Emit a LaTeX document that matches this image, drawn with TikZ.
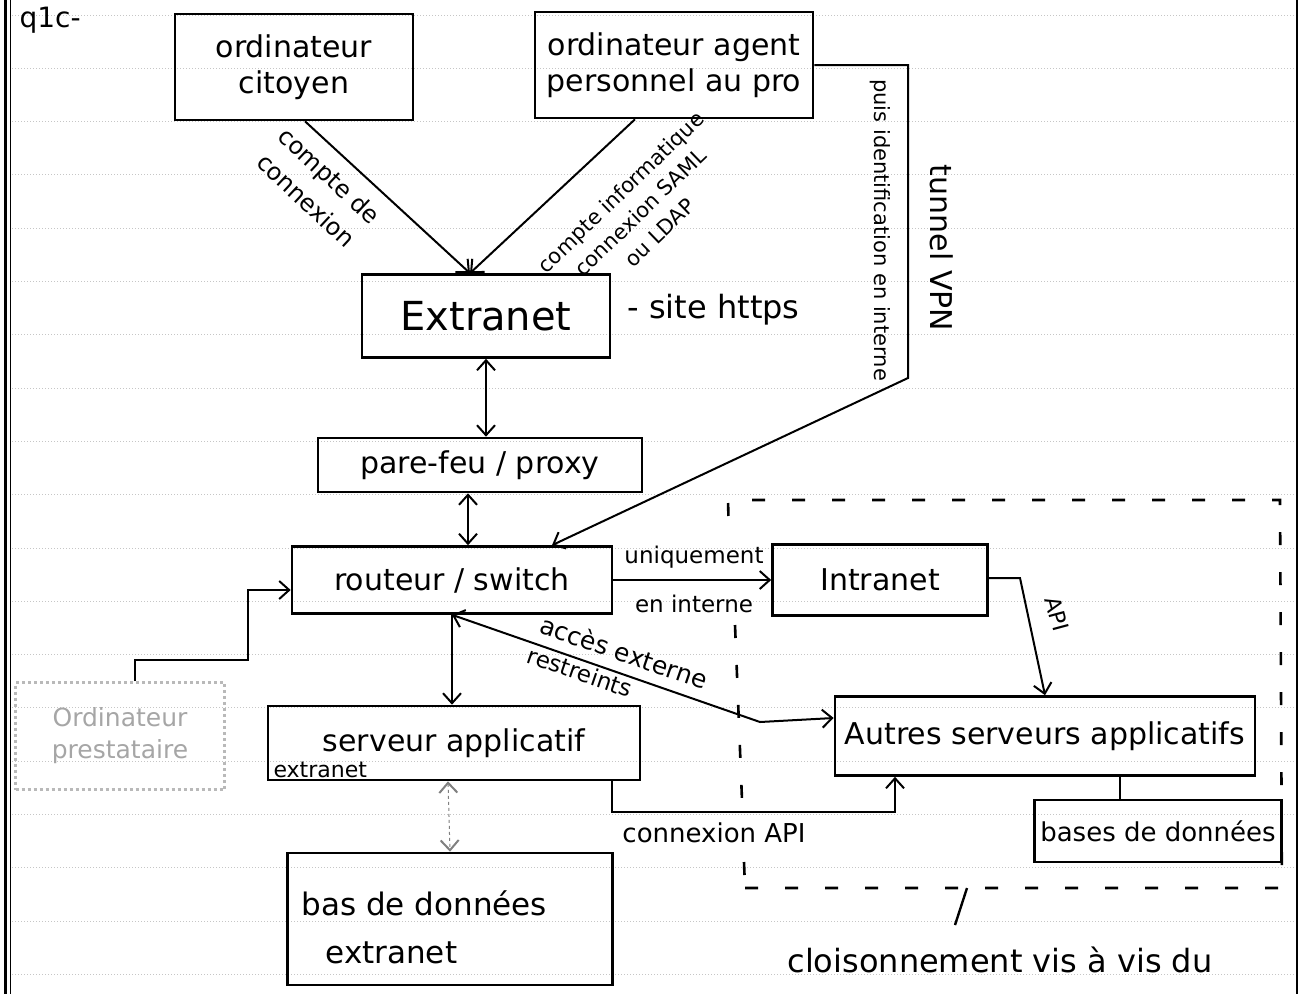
\documentclass[tikz,border=0pt]{standalone}
\usepackage{fontspec}
\setmainfont{DejaVu Sans}
\usetikzlibrary{arrows.meta}
\newcommand\szbig{\fontsize{40}{44}\selectfont}
\newcommand\szbox{\fontsize{30}{36}\selectfont}
\newcommand\szlab{\fontsize{23}{28}\selectfont}
\newcommand\szsmall{\fontsize{20}{24}\selectfont}
\begin{document}
\begin{tikzpicture}[x=1pt,y=-1pt,
  box/.style={draw, line width=2.6pt, inner sep=0pt, align=center, font=\szbox},
  conn/.style={line width=2pt},
  arr/.style={conn, -{Straight Barb[length=10pt,width=18pt,line width=2pt]}},
  darr/.style={conn, {Straight Barb[length=10pt,width=18pt,line width=2pt]}-{Straight Barb[length=10pt,width=18pt,line width=2pt]}},
  lab/.style={font=\szlab, inner sep=1pt, align=center},
  ruled/.style={gray!45, dotted, line width=1pt},
  zone/.style={line width=2.6pt, dash pattern=on 13pt off 27pt}]
\useasboundingbox (0,0) rectangle (1303,994);
\fill[white] (0,0) rectangle (1303,994);
% notebook ruling and margins
\foreach \i in {0,...,18} \draw[ruled] (12,15+53.3*\i) -- (1294,15+53.3*\i);
\draw[line width=3pt] (5,0) -- (5,994);
\draw[line width=1pt] (10,0) -- (10,994);
\draw[line width=2pt] (1297,0) -- (1297,994);
\node[font=\fontsize{28}{30}\selectfont, anchor=west] (q) at (16,20) {q1c-};
% boxes
\node[box, minimum width=238pt, minimum height=106pt] (cit) at (294,67) {ordinateur\\citoyen};
\node[box, minimum width=278pt, minimum height=106pt] (agt) at (674,65) {ordinateur agent\\personnel au pro};
\node[box, font=\szbig, minimum width=248pt, minimum height=83pt] (ext) at (486,316) {Extranet};
\node[font=\fontsize{32}{36}\selectfont, anchor=west] (https) at (624,310) {- site https};
\node[box, minimum width=324pt, minimum height=54pt] (pf) at (480,465) {pare-feu / proxy};
\node[box, minimum width=320pt, minimum height=67pt] (rt) at (452,580) {routeur / switch};
\node[box, minimum width=215pt, minimum height=71pt] (intra) at (880,580) {Intranet};
\node[box, minimum width=420pt, minimum height=79pt] (autres) at (1045,736) {Autres serveurs applicatifs};
\node[box, minimum width=372pt, minimum height=74pt] (serv) at (454,743) {serveur applicatif};
\node[font=\fontsize{22}{26}\selectfont, anchor=west] (servx) at (270,770) {extranet};
\node[box, font=\fontsize{26}{32}\selectfont, minimum width=247pt, minimum height=62pt] (bdd) at (1158,831) {bases de données};
\node[box, minimum width=325pt, minimum height=132pt] (bdx) at (450,919) {};
\node[font=\fontsize{31}{36}\selectfont, anchor=west] (bdxa) at (298,903) {bas de données};
\node[font=\fontsize{31}{36}\selectfont, anchor=west] (bdxb) at (322,953) {extranet};
\node[box, draw=gray!55, dashed, text=gray!70, minimum width=209pt, minimum height=107pt, font=\fontsize{25}{32}\selectfont] (presta) at (120,736) {Ordinateur\\prestataire};
% connectors
\draw[arr] ([xshift=11pt]cit.south) -- ([xshift=-16pt]ext.north);
\node[lab, rotate=-43, font=\fontsize{24}{34}\selectfont] (l1) at (318,188) {compte de\\connexion};
\draw[arr] ([xshift=-39pt]agt.south) -- ([xshift=-16pt]ext.north);
\node[lab, rotate=44, font=\fontsize{21}{28}\selectfont] (l2) at (640,212) {compte informatique\\connexion SAML\\ou LDAP};
\draw[darr] (ext.south) -- (ext.south |- pf.north);
\draw[darr] ([xshift=-12pt]pf.south) -- ([xshift=16pt]rt.north);
\coordinate (v1) at (908,65);
\coordinate (v2) at (908,378);
\draw[arr] (agt.east) -- (v1) -- (v2) -- ([xshift=100pt]rt.north);
\node[lab, rotate=-90, font=\fontsize{30}{34}\selectfont] (l3) at (942,248) {tunnel VPN};
\node[lab, rotate=-90, font=\fontsize{21}{24}\selectfont] (l4) at (880,230) {puis identification en interne};
\draw[arr] (rt.east) -- (intra.west);
\node[lab] (l5) at (694,557) {uniquement};
\node[lab] (l6) at (694,604) {en interne};
\coordinate (a1) at (1020,578);
\draw[arr] (intra.east |- a1) -- (a1) -- (autres.north);
\node[lab, rotate=-75, font=\fontsize{22}{26}\selectfont] (l7) at (1057,614) {API};
\draw[arr] (rt.south) -- (rt.south |- serv.north);
\coordinate (k) at (760,722);
\draw[darr] (rt.south) -- (k) -- ([yshift=18pt]autres.west);
\node[lab, rotate=-19, font=\fontsize{25}{28}\selectfont] (l8) at (624,652) {accès externe};
\node[lab, rotate=-19, font=\fontsize{23}{26}\selectfont] (l9) at (580,672) {restreints};
\coordinate (c1) at (612,812);
\coordinate (c2) at (895,812);
\draw[arr] (serv.south -| c1) -- (c1) -- (c2) -- (c2 |- autres.south);
\node[lab, font=\fontsize{26}{30}\selectfont] (l10) at (714,833) {connexion API};
\draw[conn] ([xshift=75pt]autres.south) -- ([xshift=75pt]autres.south |- bdd.north);
\draw[darr, line width=1pt, gray, dashed] ([xshift=-6pt]serv.south) -- (bdx.north);
\coordinate (p1) at (135,660);
\coordinate (p2) at (248,660);
\coordinate (p3) at (248,590);
\draw[arr] (presta.north -| p1) -- (p1) -- (p2) -- (p3) -- ([yshift=-10pt]rt.west);
% partition zone
\coordinate (z1) at (728,500);
\coordinate (z2) at (1280,500);
\coordinate (z3) at (1282,888);
\coordinate (z4) at (745,888);
\draw[zone] (z4) -- (z3) -- (z2) -- (z1) -- (729,538);
\draw[zone] (735,625) -- (742,800);
\draw[zone] (744,862) -- (z4);
\coordinate (zp) at (967,888);
\draw[line width=2.4pt] (zp) -- (955,925);
\node[font=\fontsize{32}{36}\selectfont] (l11) at (1000,960) {cloisonnement vis à vis du};
\end{tikzpicture}
\end{document}
